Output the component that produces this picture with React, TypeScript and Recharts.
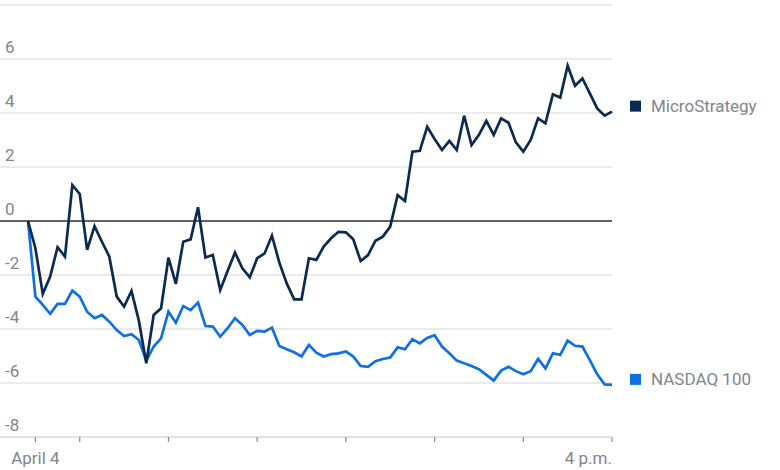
import { LineChart, Line, XAxis, YAxis, CartesianGrid, ReferenceLine } from 'recharts';

// 5-minute steps from 9:25 (previous close) to 4 p.m., % change
const microStrategy = [
    0, -1.01, -2.70, -2.06, -0.97, -1.32, 1.33, 1.0, -1.07, -0.19,
    -0.77, -1.32, -2.80, -3.17, -2.59, -3.7, -5.27, -3.48, -3.23, -1.36,
    -2.33, -0.77, -0.68, 0.51, -1.35, -1.26, -2.56, -1.85, -1.17, -1.75,
    -2.09, -1.38, -1.20, -0.54, -1.54, -2.31, -2.90, -2.90, -1.38, -1.44,
    -0.95, -0.64, -0.40, -0.42, -0.68, -1.48, -1.26, -0.73, -0.58, -0.21,
    0.96, 0.74, 2.57, 2.60, 3.49, 3.04, 2.63, 2.97, 2.63, 3.90,
    2.81, 3.19, 3.71, 3.19, 3.80, 3.64, 2.91, 2.57, 3.0, 3.80,
    3.62, 4.69, 4.57, 5.75, 5.01, 5.28, 4.73, 4.17, 3.90, 4.05
];

const nasdaq100 = [
    0, -2.80, -3.11, -3.44, -3.07, -3.07, -2.58, -2.80, -3.36, -3.60,
    -3.48, -3.73, -4.04, -4.26, -4.19, -4.41, -5.17, -4.65, -4.35, -3.36,
    -3.77, -3.15, -3.30, -3.02, -3.89, -3.91, -4.28, -3.97, -3.60, -3.85,
    -4.22, -4.07, -4.10, -3.95, -4.63, -4.75, -4.86, -5.02, -4.59, -4.88,
    -5.02, -4.93, -4.90, -4.83, -5.02, -5.37, -5.40, -5.19, -5.11, -5.06,
    -4.68, -4.75, -4.38, -4.53, -4.33, -4.23, -4.65, -4.90, -5.17, -5.27,
    -5.37, -5.49, -5.70, -5.91, -5.54, -5.40, -5.56, -5.68, -5.56, -5.11,
    -5.46, -4.90, -4.96, -4.43, -4.62, -4.65, -5.15, -5.68, -6.05, -6.07
];

// hourly ticks (index of 5-min step), only first and last labelled
const xTicks = [1, 7, 19, 31, 43, 55, 67, 79];
const xTickLabels: Record<number, string> = { 1: 'April 4', 79: '4 p.m.' };
const yTicks = [-8, -6, -4, -2, 0, 2, 4, 6, 8];

const data = microStrategy.map((v, i) => ({ i, mstr: v, ndx: nasdaq100[i] }));

const TEXT = '#80878a';
const NAVY = '#0b2a50';
const BLUE = '#0f70e0';

const XTick = ({ x, y, payload }: any) => {
    const label = xTickLabels[payload.value];
    if (!label) return null;
    const last = payload.value === xTicks[xTicks.length - 1];
    return (
        <text x={x} y={y + 20} textAnchor={last ? 'end' : 'middle'} fill={TEXT} fontSize={17}>
            {label}
        </text>
    );
};

const YTick = ({ y, payload }: any) => {
    if (payload.value === 8) return null;
    return (
        <text x={5} y={y - 6} textAnchor="start" fill={TEXT} fontSize={17}>
            {payload.value}
        </text>
    );
};

const endLabel = (name: string, color: string) => (props: any) => {
    const { x, y, index } = props;
    if (index !== data.length - 1) return null;
    return (
        <g key={name}>
            <rect x={x + 18} y={y - 11} width={11} height={11} fill={color} />
            <text x={x + 39} y={y} fill={TEXT} fontSize={17}>{name}</text>
        </g>
    );
};

export default function App() {
    return (
        <div style={{ position: 'absolute', left: 0, top: 0, background: '#fff' }}>
            <LineChart
                width={780}
                height={470}
                data={data}
                margin={{ top: 5, right: 168, left: -1, bottom: 3 }}
                style={{ fontFamily: 'Roboto, sans-serif' }}
            >
                <CartesianGrid vertical={false} stroke="#e4e4e4" strokeWidth={1.5} />
                <XAxis
                    dataKey="i"
                    type="number"
                    domain={[0, 79]}
                    ticks={xTicks}
                    padding={{ left: 28, right: 0 }}
                    height={30}
                    axisLine={{ stroke: '#e0e0e0', strokeWidth: 1.5 }}
                    tickLine={{ stroke: '#8a8a8a', strokeWidth: 1.2 }}
                    tickSize={5}
                    tick={<XTick />}
                    interval={0}
                />
                <YAxis
                    type="number"
                    domain={[-8, 8]}
                    ticks={yTicks}
                    width={1}
                    axisLine={false}
                    tickLine={false}
                    tick={<YTick />}
                    interval={0}
                />
                <ReferenceLine y={0} stroke="#333" strokeWidth={1.5} />
                <Line
                    dataKey="ndx"
                    type="linear"
                    stroke={BLUE}
                    strokeWidth={2.7}
                    dot={false}
                    isAnimationActive={false}
                    label={endLabel('NASDAQ 100', BLUE)}
                />
                <Line
                    dataKey="mstr"
                    type="linear"
                    stroke={NAVY}
                    strokeWidth={2.7}
                    dot={false}
                    isAnimationActive={false}
                    label={endLabel('MicroStrategy', NAVY)}
                />
            </LineChart>
        </div>
    );
}
